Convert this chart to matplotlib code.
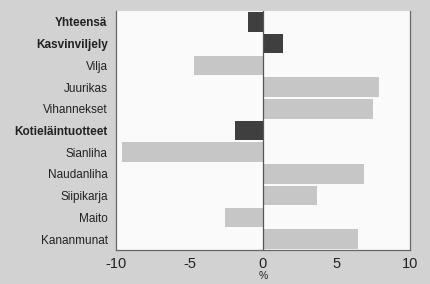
import matplotlib.pyplot as plt

categories = ["Yhteensä", "Kasvinviljely", "Vilja", "Juurikas", "Vihannekset",
              "Kotieläintuotteet", "Sianliha", "Naudanliha", "Siipikarja",
              "Maito", "Kananmunat"]
values = [-1.0, 1.4, -4.7, 7.9, 7.5, -1.9, -9.6, 6.9, 3.7, -2.6, 6.5]
totals = ["Yhteensä", "Kasvinviljely", "Kotieläintuotteet"]
xticks = [-10, -5, 0, 5, 10]

font = "Liberation Sans"

fig = plt.figure(figsize=(4.31, 2.84), dpi=100, facecolor="#d2d2d2")
ax = fig.add_axes([0.269, 0.12, 0.682, 0.841], facecolor="#fafafa")

colors = ["#3f3f3f" if c in totals else "#c6c6c6" for c in categories]
pos = list(range(len(categories)))
ax.barh(pos, values, height=0.9, color=colors, zorder=2)
ax.axvline(0, color="#555555", lw=0.9, zorder=3)

ax.set_xlim(-10, 10)
ax.set_ylim(len(categories) - 0.5, -0.5)
ax.set_yticks(pos)
ax.set_yticklabels(categories, fontsize=8.5, family=font)
for lbl in ax.get_yticklabels():
    if lbl.get_text() in totals:
        lbl.set_fontweight("bold")
ax.set_xticks(xticks)
ax.set_xticklabels([str(t) for t in xticks], fontsize=10.5, family=font)
ax.tick_params(axis="y", length=0, pad=6, colors="#222222")
ax.tick_params(axis="x", length=0, pad=5, colors="#222222")
ax.set_xlabel("%", fontsize=7.5, labelpad=0, family=font, color="#222222")

for s in ax.spines.values():
    s.set_color("#666666")
    s.set_linewidth(0.9)
ax.spines["top"].set_visible(False)

fig.savefig("out.png", dpi=100, facecolor=fig.get_facecolor())
